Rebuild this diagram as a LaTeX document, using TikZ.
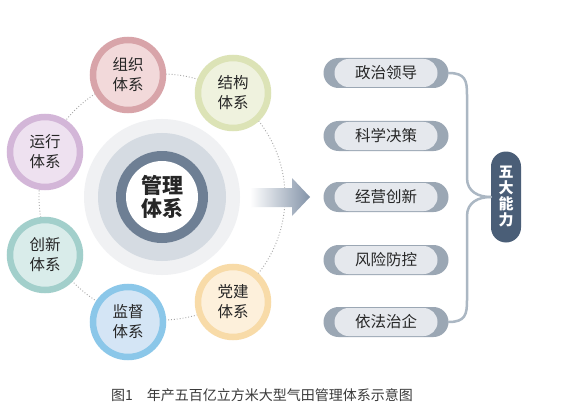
\documentclass[tikz,border=0pt]{standalone}
\usepackage{fontspec}
\setmainfont{Noto Sans CJK SC}
\usepackage{tikz}
\usetikzlibrary{arrows.meta}

\definecolor{txtc}{HTML}{262626}
\definecolor{capc}{HTML}{3A3A3A}
\definecolor{ringA}{HTML}{D8A4A9}\definecolor{fillA}{HTML}{F2D9DA}
\definecolor{ringB}{HTML}{DCE3B6}\definecolor{fillB}{HTML}{EFF2DE}
\definecolor{ringC}{HTML}{D3B6D8}\definecolor{fillC}{HTML}{EEE1F0}
\definecolor{ringD}{HTML}{A2CFCB}\definecolor{fillD}{HTML}{D9ECEA}
\definecolor{ringE}{HTML}{8BC7E9}\definecolor{fillE}{HTML}{D4E5F5}
\definecolor{ringF}{HTML}{F8DBA8}\definecolor{fillF}{HTML}{FDF0DB}
\definecolor{coreA}{HTML}{F0F1F3}
\definecolor{coreB}{HTML}{D5DBE2}
\definecolor{coreC}{HTML}{6E7F94}
\definecolor{arrowc}{HTML}{8393A8}
\definecolor{pilldark}{HTML}{9BA7B4}
\definecolor{pilllight}{HTML}{E5E8ED}
\definecolor{connc}{HTML}{ABB7C3}
\definecolor{fivec}{HTML}{4A5E77}

\tikzset{
  sysnode/.style={circle, minimum size=70pt, inner sep=0pt, line width=6.5pt,
    align=center, text=txtc, font=\fontsize{15.5}{20}\selectfont},
  pillout/.style={rectangle, rounded corners=15pt, minimum width=125pt,
    minimum height=30pt, fill=pilldark, inner sep=0pt},
  pillin/.style={rectangle, rounded corners=14pt, minimum width=103pt,
    minimum height=28pt, fill=pilllight, inner sep=0pt, text=txtc,
    font=\fontsize{15.5}{18}\selectfont},
  conn/.style={connc, line width=2.5pt, line cap=round},
}

\begin{document}
\begin{tikzpicture}[x=1pt,y=-1pt]
    \useasboundingbox[fill=white] (0,0) rectangle (561,414);

    \coordinate (c) at (162,197);
    \draw[gray!70, dotted, line width=0.9pt] (c) circle (123pt);

    \fill[coreA] (c) circle (78pt);
    \fill[coreB] (c) circle (64pt);
    \fill[coreC] (c) circle (46pt);
    \fill[white] (c) circle (36pt);
    \node[align=center, text=txtc, font=\fontsize{21}{23}\selectfont\bfseries] (core) at (c) {管理\\体系};

    \node[sysnode, draw=ringA, fill=fillA] (zuzhi) at (128,75) {组织\\体系};
    \node[sysnode, draw=ringB, fill=fillB] (jiegou) at (233,93) {结构\\体系};
    \node[sysnode, draw=ringC, fill=fillC] (yunxing) at (45,152) {运行\\体系};
    \node[sysnode, draw=ringD, fill=fillD] (chuangxin) at (45,255) {创新\\体系};
    \node[sysnode, draw=ringE, fill=fillE] (jiandu) at (128,322) {监督\\体系};
    \node[sysnode, draw=ringF, fill=fillF] (dangjian) at (233,302) {党建\\体系};

    \shade[left color=white, right color=arrowc]
      (250,188) -- (292,188) -- (292,178) -- (310,197) -- (292,216) -- (292,207) -- (250,207) -- cycle;

    \node[pillout] (p1) at (386,73) {};
    \node[pillout] (p2) at (386,136) {};
    \node[pillout] (p3) at (386,197) {};
    \node[pillout] (p4) at (386,260) {};
    \node[pillout] (p5) at (386,322) {};
    \node[pillin] at (p1) {政治领导};
    \node[pillin] at (p2) {科学决策};
    \node[pillin] at (p3) {经营创新};
    \node[pillin] at (p4) {风险防控};
    \node[pillin] at (p5) {依法治企};

    \node[rectangle, rounded corners=15pt, fill=fivec, minimum width=30pt, minimum height=91pt,
      inner sep=0pt, align=center, text=white, font=\fontsize{15}{16}\selectfont\bfseries] (five) at (506,197) {五\\大\\能\\力};

    \coordinate (ta) at (467,95);
    \coordinate (tb) at (467,178);
    \coordinate (ba) at (467,216);
    \coordinate (bb) at (467,300);
    \draw[conn] (p1.east) .. controls +(17,0) and +(0,-14) .. (ta) -- (tb)
      .. controls +(0,14) and +(-12,0) .. (five.west);
    \draw[conn] (five.west) .. controls +(-12,0) and +(0,-14) .. (ba) -- (bb)
      .. controls +(0,14) and +(17,0) .. (p5.east);

    \node[text=capc, font=\fontsize{14}{16}\selectfont] (cap) at (262,395) {图1\hspace{1em}年产五百亿立方米大型气田管理体系示意图};
\end{tikzpicture}
\end{document}
